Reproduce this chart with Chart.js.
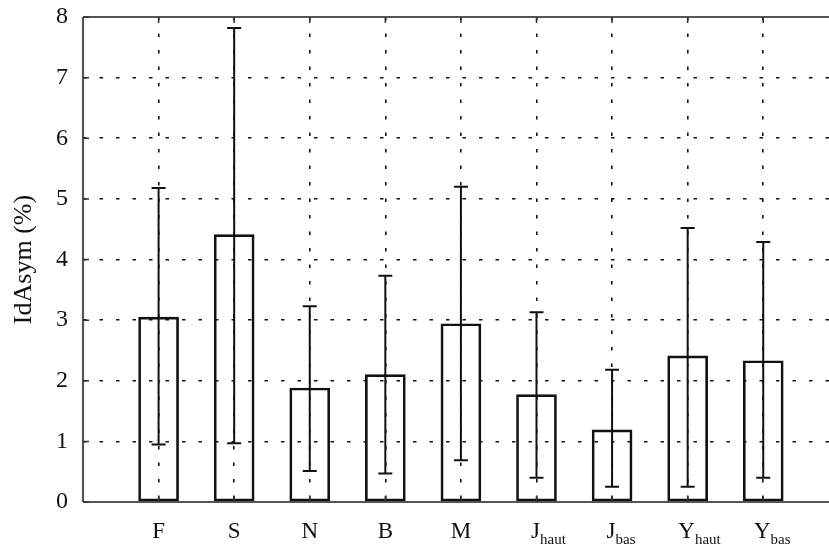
<!DOCTYPE html>
<html>
<head>
<meta charset="utf-8">
<script src="https://cdn.jsdelivr.net/npm/chart.js@4"></script>
<style>
html,body{margin:0;padding:0;background:#fff;overflow:hidden;}
#wrap{width:829px;height:552px;position:relative;}
</style>
</head>
<body>
<div id="wrap"><canvas id="c" width="829" height="552"></canvas></div>
<script>
const categories = ['F','S','N','B','M','J','J','Y','Y'];
const subscripts = ['','','','','','haut','bas','haut','bas'];
const means = [3.05, 4.41, 1.88, 2.10, 2.94, 1.77, 1.19, 2.41, 2.33];
const errHigh = [5.18, 7.82, 3.23, 3.73, 5.20, 3.13, 2.18, 4.52, 4.29];
const errLow = [0.95, 0.97, 0.51, 0.47, 0.69, 0.40, 0.25, 0.25, 0.40];
const yTicks = [0,1,2,3,4,5,6,7,8];
const yTitle = 'IdAsym (%)';

const SERIF = '"Liberation Serif", "DejaVu Serif", serif';
const INK = '#111';

const overlay = {
  id: 'overlay',
  afterDatasetsDraw(chart) {
    const ctx = chart.ctx;
    const xs = chart.scales.x, ys = chart.scales.y;
    const a = chart.chartArea;
    ctx.save();
    // error bars
    ctx.strokeStyle = INK;
    ctx.lineWidth = 2;
    ctx.setLineDash([]);
    categories.forEach((c, i) => {
      const x = xs.getPixelForValue(i + 1);
      const yh = ys.getPixelForValue(errHigh[i]);
      const yl = ys.getPixelForValue(errLow[i]);
      ctx.beginPath();
      ctx.moveTo(x, yh); ctx.lineTo(x, yl);
      ctx.moveTo(x - 7, yh); ctx.lineTo(x + 7, yh);
      ctx.moveTo(x - 7, yl); ctx.lineTo(x + 7, yl);
      ctx.stroke();
    });
    // frame
    ctx.strokeStyle = '#555';
    ctx.lineWidth = 2.2;
    ctx.beginPath();
    ctx.moveTo(a.left, a.top); ctx.lineTo(829, a.top);
    ctx.moveTo(a.left, a.top); ctx.lineTo(a.left, a.bottom);
    ctx.moveTo(a.left, a.bottom); ctx.lineTo(829, a.bottom);
    ctx.stroke();
    // inner tick marks
    ctx.strokeStyle = '#333';
    ctx.lineWidth = 1.5;
    ctx.beginPath();
    categories.forEach((c, i) => {
      const x = xs.getPixelForValue(i + 1);
      ctx.moveTo(x, a.top); ctx.lineTo(x, a.top + 6);
      ctx.moveTo(x, a.bottom); ctx.lineTo(x, a.bottom - 6);
    });
    yTicks.forEach(v => {
      const y = ys.getPixelForValue(v);
      ctx.moveTo(a.left, y); ctx.lineTo(a.left + 6, y);
    });
    ctx.stroke();
    // x labels with subscripts
    ctx.fillStyle = INK;
    ctx.textBaseline = 'alphabetic';
    categories.forEach((c, i) => {
      const x = xs.getPixelForValue(i + 1);
      const sub = subscripts[i];
      ctx.font = '23px ' + SERIF;
      const w1 = ctx.measureText(c).width;
      ctx.font = '15px ' + SERIF;
      const w2 = sub ? ctx.measureText(sub).width : 0;
      const total = w1 + w2;
      const x0 = sub ? x - w1 / 2 - 1 : x - total / 2;
      ctx.font = '23px ' + SERIF;
      ctx.textAlign = 'left';
      ctx.fillText(c, x0, 538);
      if (sub) {
        ctx.font = '15px ' + SERIF;
        ctx.fillText(sub, x0 + w1, 544);
      }
    });
    ctx.restore();
  }
};

new Chart(document.getElementById('c'), {
  type: 'bar',
  data: {
    datasets: [{
      data: means.map((v, i) => ({x: i + 1, y: v})),
      backgroundColor: 'rgba(0,0,0,0)',
      borderColor: INK,
      borderWidth: 2,
      borderSkipped: false,
      barThickness: 40
    }]
  },
  options: {
    responsive: false,
    animation: false,
    events: [],
    layout: {padding: {top: 17, left: 0, right: 0, bottom: 0}},
    plugins: {legend: {display: false}, tooltip: {enabled: false}},
    scales: {
      x: {
        type: 'linear',
        min: 0,
        max: 9.87,
        offset: false,
        afterBuildTicks(s) { s.ticks = categories.map((c, i) => ({value: i + 1})); },
        afterFit(s) { s.height = 50; s.paddingLeft = 0; s.paddingRight = 0; },
        ticks: {display: false},
        grid: {color: INK, lineWidth: 1.6, drawTicks: false, offset: false},
        border: {display: false, dash: [3.5, 13]}
      },
      y: {
        min: 0,
        max: 8,
        afterBuildTicks(s) { s.ticks = yTicks.map(v => ({value: v})); },
        afterFit(s) { s.width = 83; s.paddingTop = 0; s.paddingBottom = 0; },
        ticks: {
          color: INK,
          font: {family: SERIF, size: 24},
          padding: 15,
          callback: v => String(v)
        },
        title: {
          display: true,
          text: yTitle,
          color: INK,
          font: {family: SERIF, size: 26},
          padding: {top: 9, bottom: 0}
        },
        grid: {color: INK, lineWidth: 1.6, drawTicks: false},
        border: {display: false, dash: [3.5, 13]}
      }
    }
  },
  plugins: [overlay]
});
</script>
</body>
</html>
